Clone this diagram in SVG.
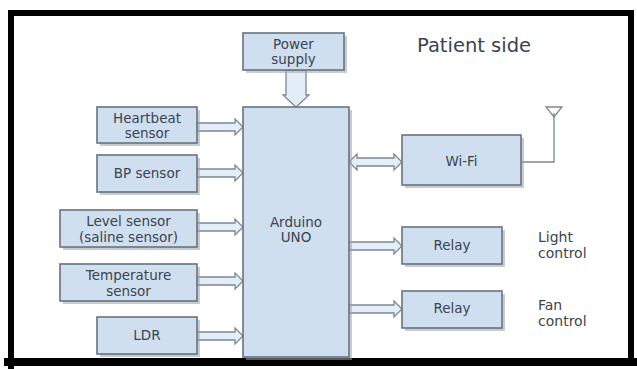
<svg xmlns="http://www.w3.org/2000/svg" width="637" height="369" viewBox="0 0 637 369">
<style>
.box{fill:#cfdff0;stroke:#66737f;stroke-width:1.6}
.sh{fill:#9aa3ac;opacity:0.55}
.t{font-family:"DejaVu Sans","Liberation Sans",Arial,sans-serif;font-size:13.5px;fill:#3a4450;text-anchor:middle}
.l{font-family:"DejaVu Sans","Liberation Sans",Arial,sans-serif;font-size:14px;fill:#3a4450}
.arr{fill:#e4eef8;stroke:#7c8893;stroke-width:1.3}
.wire{fill:none;stroke:#7c8893;stroke-width:1.3}
</style>
<rect width="637" height="369" fill="#ffffff"/>
<g id="frame" fill="#000">
<rect x="8" y="10" width="626" height="6"/>
<rect x="8" y="10" width="6" height="359"/>
<rect x="628" y="10" width="6" height="352"/>
<rect x="4" y="358" width="633" height="8"/>
</g>
<text class="l" x="417" y="52" style="font-size:19.5px">Patient side</text>
<g id="connectors">
<path class="arr" d="M286,70 V95 H283 L296,107 L309,95 H306 V70 Z"/>
<path class="arr" d="M197,123 H235 V119 L243,127 L235,135 V131 H197 Z"/>
<path class="arr" d="M197,169 H235 V165 L243,173 L235,181 V177 H197 Z"/>
<path class="arr" d="M197,223 H235 V219 L243,227 L235,235 V231 H197 Z"/>
<path class="arr" d="M197,277 H235 V273 L243,281 L235,289 V285 H197 Z"/>
<path class="arr" d="M197,332 H235 V328 L243,336 L235,344 V340 H197 Z"/>
<path class="arr" d="M349,162 L357,154 V158 H394 V154 L402,162 L394,170 V166 H357 V170 Z"/>
<path class="arr" d="M349,242 H394 V238 L402,246 L394,254 V250 H349 Z"/>
<path class="arr" d="M349,305 H394 V301 L402,309 L394,317 V313 H349 Z"/>
<path class="wire" d="M521,162 H554 V113"/>
<path class="wire" d="M546,107 H562 L554,117 Z"/>
</g>
<g id="power">
<rect class="sh" x="246" y="36" width="101" height="37"/>
<rect class="box" x="243" y="33" width="101" height="37"/>
<text class="t" x="293.5" y="49">Power</text>
<text class="t" x="293.5" y="64">supply</text>
</g>
<g id="arduino">
<rect class="sh" x="246" y="110" width="106" height="250"/>
<rect class="box" x="243" y="107" width="106" height="250"/>
<text class="t" x="296" y="227">Arduino</text>
<text class="t" x="296" y="242">UNO</text>
</g>
<g id="heartbeat">
<rect class="sh" x="100" y="110" width="100" height="36"/>
<rect class="box" x="97" y="107" width="100" height="36"/>
<text class="t" x="147" y="123">Heartbeat</text>
<text class="t" x="147" y="138">sensor</text>
</g>
<g id="bp">
<rect class="sh" x="100" y="158" width="100" height="37"/>
<rect class="box" x="97" y="155" width="100" height="37"/>
<text class="t" x="147" y="178">BP sensor</text>
</g>
<g id="level">
<rect class="sh" x="63" y="213" width="137" height="37"/>
<rect class="box" x="60" y="210" width="137" height="37"/>
<text class="t" x="128.5" y="226">Level sensor</text>
<text class="t" x="128.5" y="242">(saline sensor)</text>
</g>
<g id="temperature">
<rect class="sh" x="63" y="267" width="137" height="37"/>
<rect class="box" x="60" y="264" width="137" height="37"/>
<text class="t" x="128.5" y="280">Temperature</text>
<text class="t" x="128.5" y="296">sensor</text>
</g>
<g id="ldr">
<rect class="sh" x="100" y="320" width="100" height="37"/>
<rect class="box" x="97" y="317" width="100" height="37"/>
<text class="t" x="147" y="340">LDR</text>
</g>
<g id="wifi">
<rect class="sh" x="405" y="138" width="119" height="50"/>
<rect class="box" x="402" y="135" width="119" height="50"/>
<text class="t" x="461.5" y="166">Wi-Fi</text>
</g>
<g id="relay1">
<rect class="sh" x="405" y="230" width="100" height="37"/>
<rect class="box" x="402" y="227" width="100" height="37"/>
<text class="t" x="452" y="250">Relay</text>
<text class="l" x="538" y="242">Light</text>
<text class="l" x="538" y="258">control</text>
</g>
<g id="relay2">
<rect class="sh" x="405" y="294" width="100" height="37"/>
<rect class="box" x="402" y="291" width="100" height="37"/>
<text class="t" x="452" y="313">Relay</text>
<text class="l" x="538" y="310">Fan</text>
<text class="l" x="538" y="326">control</text>
</g>
</svg>
